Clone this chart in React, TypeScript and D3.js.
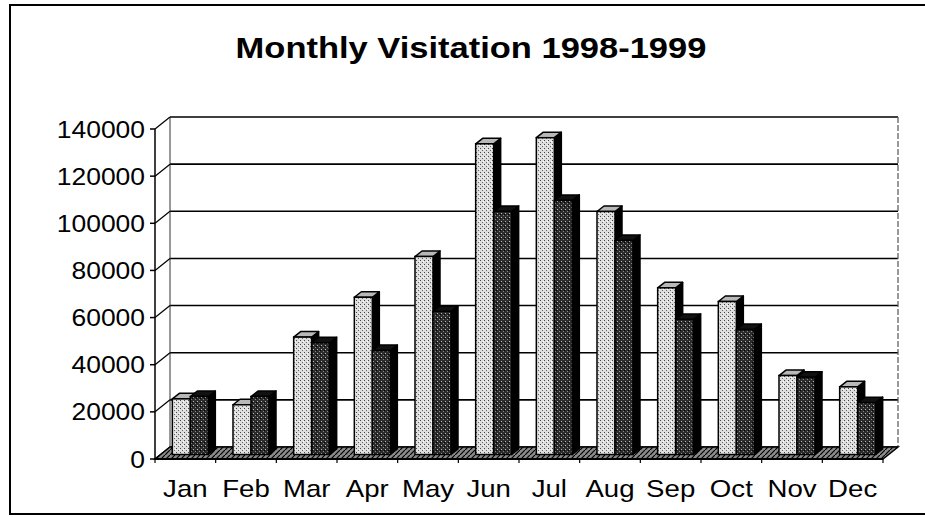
import React from "react";
import * as d3 from "d3";

const months = ["Jan", "Feb", "Mar", "Apr", "May", "Jun", "Jul", "Aug", "Sep", "Oct", "Nov", "Dec"];
const series = ["1998", "1999"];
const visits1998 = [23600, 21100, 49800, 66700, 84000, 131800, 134400, 103100, 70700, 64900, 33500, 28700];
const visits1999 = [24600, 24600, 47400, 44100, 60700, 103100, 107800, 90800, 57300, 53000, 32800, 22000];
const yTicks = [0, 20000, 40000, 60000, 80000, 100000, 120000, 140000];
const title = "Monthly Visitation 1998-1999";

const W = 925;
const H = 517;
// 3D geometry
const FRONT_LEFT = 155;
const FRONT_RIGHT = 883;
const BACK_DX = 15;
const BACK_DY = -12;
const BAR_DX = 5; // bar front plane offset
const BAR_DY = -4.5;
const DEPTH_DX = 7; // bar depth projection
const DEPTH_DY = -5.5;
const SX = 1.15; // horizontal stretch of scanned text

export default function App() {
  const yBack = d3.scaleLinear().domain([0, 140000]).range([447, 117]);
  const yFront = (v: number) => yBack(v) - BACK_DY;
  const x0 = d3.scaleBand<string>().domain(months).range([FRONT_LEFT, FRONT_RIGHT]).paddingInner(0).paddingOuter(0);
  const x1 = d3.scaleBand<string>().domain(series).range([0, x0.bandwidth()]).paddingInner(0).paddingOuter(0.685);
  const values = [visits1998, visits1999];

  const floorY = yFront(0);
  const backLeft = FRONT_LEFT + BACK_DX;
  const backRight = FRONT_RIGHT + BACK_DX;

  const bars: JSX.Element[] = [];
  months.forEach((m, i) => {
    series.forEach((s, j) => {
      const v = values[j][i];
      const xl = (x0(m) as number) + (x1(s) as number) + BAR_DX;
      const w = x1.bandwidth();
      const yb = yFront(0) + BAR_DY;
      const yt = yFront(v) + BAR_DY;
      const xr = xl + w;
      const side = `M${xr},${yb} L${xr},${yt} L${xr + DEPTH_DX},${yt + DEPTH_DY} L${xr + DEPTH_DX},${yb + DEPTH_DY} Z`;
      const top = `M${xl},${yt} L${xr},${yt} L${xr + DEPTH_DX},${yt + DEPTH_DY} L${xl + DEPTH_DX},${yt + DEPTH_DY} Z`;
      bars.push(
        <g key={`${m}-${s}`}>
          <path d={side} fill="#000" stroke="#000" strokeWidth={1.5} strokeLinejoin="round" />
          <path d={top} fill={j === 0 ? "#b8b8b8" : "#111"} stroke="#000" strokeWidth={1.5} strokeLinejoin="round" />
          <rect x={xl} y={yt} width={w} height={yb - yt} fill={j === 0 ? "url(#lightPat)" : "url(#darkPat)"} stroke="#000" strokeWidth={1.5} />
        </g>
      );
    });
  });

  const fontFamily = "'Liberation Sans', Arial, sans-serif";

  return (
    <svg width={W} height={H} style={{ position: "absolute", left: 0, top: 0, background: "#fff" }}>
      <defs>
        <pattern id="lightPat" width={4} height={4} patternUnits="userSpaceOnUse">
          <rect width={4} height={4} fill="#dedede" />
          <rect x={0} y={0} width={1} height={1} fill="#444" />
          <rect x={2} y={2} width={1} height={1} fill="#666" />
          <rect x={3} y={1} width={1} height={1} fill="#fff" />
        </pattern>
        <pattern id="darkPat" width={4} height={4} patternUnits="userSpaceOnUse">
          <rect width={4} height={4} fill="#2c2c2c" />
          <rect x={1} y={1} width={1} height={1} fill="#bbb" />
          <rect x={3} y={3} width={1} height={1} fill="#888" />
          <rect x={0} y={2} width={1} height={1} fill="#000" />
        </pattern>
        <pattern id="floorPat" width={5} height={5} patternUnits="userSpaceOnUse">
          <rect width={5} height={5} fill="#8a8a8a" />
          <path d="M0,5 L5,0" stroke="#000" strokeWidth={1.2} />
        </pattern>
      </defs>

      {/* outer frame */}
      <rect x={10} y={5} width={940} height={509} fill="none" stroke="#000" strokeWidth={2} />

      {/* title */}
      <text
        transform={`translate(471,58) scale(${SX},1)`}
        textAnchor="middle"
        fontFamily={fontFamily}
        fontWeight="bold"
        fontSize={30}
        fill="#000"
      >
        {title}
      </text>

      {/* back wall gridlines */}
      {yTicks.map((t) => (
        <line key={`g${t}`} x1={backLeft} x2={backRight} y1={yBack(t)} y2={yBack(t)} stroke="#000" strokeWidth={1.6} />
      ))}
      <line x1={backLeft} x2={backLeft} y1={yBack(140000)} y2={yBack(0)} stroke="#333" strokeWidth={1} />
      <line x1={backRight} x2={backRight} y1={yBack(140000)} y2={yBack(0)} stroke="#555" strokeWidth={1.2} strokeDasharray="6,2" />

      {/* side wall diagonals */}
      {yTicks.map((t) => (
        <line key={`d${t}`} x1={FRONT_LEFT} y1={yFront(t)} x2={backLeft} y2={yBack(t)} stroke="#000" strokeWidth={1.3} />
      ))}

      {/* floor */}
      <path
        d={`M${FRONT_LEFT},${floorY} L${FRONT_RIGHT},${floorY} L${backRight},${yBack(0)} L${backLeft},${yBack(0)} Z`}
        fill="url(#floorPat)"
        stroke="#000"
        strokeWidth={1.5}
      />

      {/* bars */}
      {bars}

      {/* y axis */}
      <line x1={FRONT_LEFT} x2={FRONT_LEFT} y1={yFront(140000)} y2={floorY} stroke="#000" strokeWidth={1.5} />
      {yTicks.map((t) => (
        <g key={`yt${t}`}>
          <line x1={FRONT_LEFT - 5} x2={FRONT_LEFT} y1={yFront(t)} y2={yFront(t)} stroke="#000" strokeWidth={1.5} />
          <text
            transform={`translate(${FRONT_LEFT - 10},${yFront(t) + 8.5}) scale(${SX},1)`}
            textAnchor="end"
            fontFamily={fontFamily}
            fontSize={23}
            fill="#000"
          >
            {t}
          </text>
        </g>
      ))}

      {/* x axis */}
      <line x1={FRONT_LEFT} x2={FRONT_RIGHT} y1={floorY} y2={floorY} stroke="#000" strokeWidth={1.8} />
      {months.map((m) => (
        <line key={`xt${m}`} x1={x0(m) as number} x2={x0(m) as number} y1={floorY} y2={floorY + 4} stroke="#000" strokeWidth={1.2} />
      ))}
      <line x1={FRONT_RIGHT} x2={FRONT_RIGHT} y1={floorY} y2={floorY + 4} stroke="#000" strokeWidth={1.2} />
      {months.map((m) => (
        <text
          key={`xl${m}`}
          transform={`translate(${(x0(m) as number) + x0.bandwidth() / 2},497) scale(${SX},1)`}
          textAnchor="middle"
          fontFamily={fontFamily}
          fontSize={24}
          fill="#000"
        >
          {m}
        </text>
      ))}
    </svg>
  );
}
